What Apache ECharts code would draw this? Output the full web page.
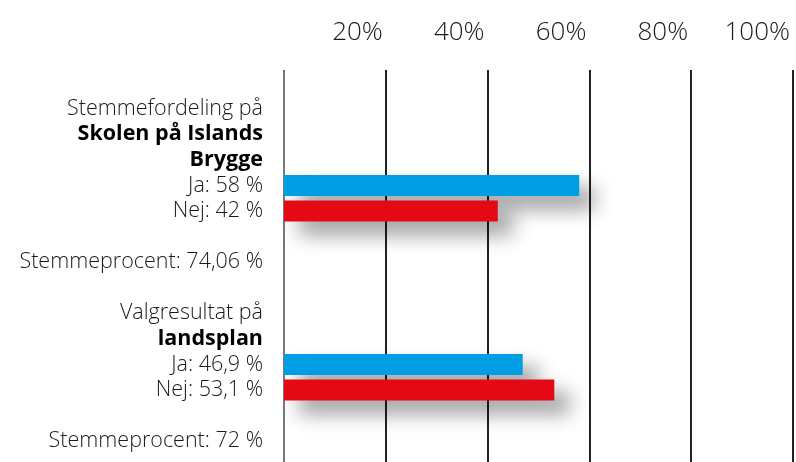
<!DOCTYPE html>
<html>
<head>
<meta charset="utf-8">
<script src="https://cdn.jsdelivr.net/npm/echarts@6/dist/echarts.min.js"></script>
<style>
  html, body { margin: 0; padding: 0; background: #fff; }
  #chart { width: 796px; height: 462px; }
</style>
</head>
<body>
<div id="chart"></div>
<script>
// data
const leadIns = ['Stemmefordeling på', 'Valgresultat på'];
const places = [['Skolen på Islands', 'Brygge'], ['landsplan']];
const jaPct = [58, 46.9];
const nejPct = [42, 53.1];
const turnout = ['74,06', '72'];
const tickValues = [20, 40, 60, 80, 100];

const FONT = '"Open Sans", "DejaVu Sans", sans-serif';
const fmt = v => String(v).replace('.', ',');

// build one row per text line
const rows = [];
leadIns.forEach((lead, i) => {
    if (i > 0) rows.push({ text: '' });
    rows.push({ text: lead });
    places[i].forEach(p => rows.push({ text: p, bold: true }));
    rows.push({ text: 'Ja: ' + fmt(jaPct[i]) + ' %', ja: jaPct[i] });
    rows.push({ text: 'Nej: ' + fmt(nejPct[i]) + ' %', nej: nejPct[i] });
    rows.push({ text: '' });
    rows.push({ text: 'Stemmeprocent: ' + turnout[i] + ' %' });
});

const rowKeys = rows.map((r, i) => 'r' + i);
const jaData = rows.map(r => r.ja !== undefined ? r.ja : '-');
const nejData = rows.map(r => r.nej !== undefined ? r.nej : '-');

const shadow = {
    shadowColor: 'rgba(0,0,0,0.4)',
    shadowBlur: 20,
    shadowOffsetX: 15,
    shadowOffsetY: 13
};

const chart = echarts.init(document.getElementById('chart'));
chart.setOption({
    animation: false,
    grid: [
        { left: 284, right: 3, top: 70, bottom: 0 },
        { left: 284, right: 3, top: 96, height: 358 }
    ],
    xAxis: [{
        gridIndex: 0,
        type: 'value',
        position: 'top',
        min: 0,
        max: 100,
        interval: 20,
        axisLine: { show: false },
        axisTick: { show: false },
        axisLabel: {
            showMinLabel: false,
            formatter: v => tickValues.includes(v) ? v + '%' : '',
            align: 'right',
            padding: [0, 3, 0, 0],
            margin: 24,
            fontFamily: FONT,
            fontWeight: 300,
            fontSize: 26,
            color: '#1a1a1a'
        },
        splitLine: {
            show: true,
            lineStyle: { color: ['#7a7a7a', '#222', '#222', '#222', '#222', '#222'], width: 2 }
        }
    }, {
        gridIndex: 1,
        type: 'value',
        min: 0,
        max: 100,
        show: false
    }],
    yAxis: [{
        gridIndex: 0,
        type: 'category',
        data: ['x'],
        show: false
    }, {
        gridIndex: 1,
        type: 'category',
        inverse: true,
        data: rowKeys,
        axisLine: { show: false },
        axisTick: { show: false },
        splitLine: { show: false },
        axisLabel: {
            margin: 21,
            formatter: (v, i) => {
                const r = rows[i];
                return r.bold ? '{b|' + r.text + '}' : '{n|' + r.text + '}';
            },
            rich: {
                n: { fontFamily: FONT, fontWeight: 300, fontSize: 21.5, color: '#1a1a1a' },
                b: { fontFamily: FONT, fontWeight: 'bold', fontSize: 21.5, color: '#000' }
            }
        }
    }],
    series: [{
        name: 'Ja',
        type: 'bar',
        xAxisIndex: 1,
        yAxisIndex: 1,
        stack: 'votes',
        barWidth: 21,
        data: jaData,
        itemStyle: Object.assign({ color: '#009fe3' }, shadow)
    }, {
        name: 'Nej',
        type: 'bar',
        xAxisIndex: 1,
        yAxisIndex: 1,
        stack: 'votes',
        barWidth: 21,
        data: nejData,
        itemStyle: Object.assign({ color: '#e30a16' }, shadow)
    }]
});
</script>
</body>
</html>
